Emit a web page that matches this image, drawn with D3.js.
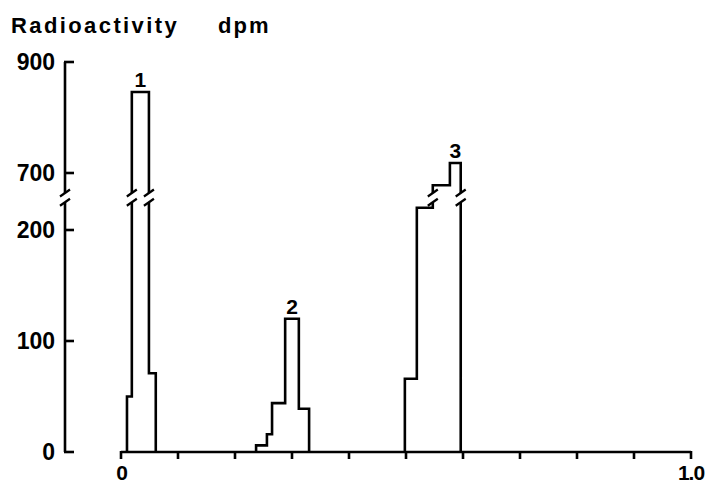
<!DOCTYPE html>
<html>
<head>
<meta charset="utf-8">
<script src="https://cdn.jsdelivr.net/npm/d3@7"></script>
<style>
  html, body { margin: 0; padding: 0; background: #fff; }
  svg { display: block; }
  text { font-family: "Liberation Sans", Arial, sans-serif; font-weight: bold; fill: #000; }
</style>
</head>
<body>
<svg id="chart" width="705" height="486"></svg>
<script>
// ---- data ----
const binStart = [0.0105, 0.019, 0.049, 0.237, 0.256, 0.265, 0.288, 0.312, 0.498, 0.519, 0.547, 0.577];
const binEnd   = [0.019, 0.049, 0.061, 0.256, 0.265, 0.288, 0.312, 0.330, 0.519, 0.547, 0.577, 0.596];
const dpm      = [50, 846, 71, 6, 16, 44, 120, 39, 66, 220, 678, 718];
const peakGroup = [0, 0, 0, 1, 1, 1, 1, 1, 2, 2, 2, 2];
const peakLabels = ["1", "2", "3"];
const peakLabelBin = [1, 6, 11];
const yTicksLow = [0, 100, 200];
const yTicksHigh = [700, 900];
const xTicks = [0, 0.1, 0.2, 0.3, 0.4, 0.5, 0.6, 0.7, 0.8, 0.9, 1.0];
const xTickLabels = {0: "0", 1: "1.0"};
const breakLow = 225, breakHigh = 664;

const svg = d3.select("#chart");

const x = d3.scaleLinear().domain([0, 1]).range([121, 691]);
const yLow = d3.scaleLinear().domain([0, 200]).range([452, 230]);
const yHigh = d3.scaleLinear().domain([700, 900]).range([173, 62]);
const y = v => (v <= breakLow ? yLow(v) : yHigh(v));
const gapTop = yHigh(breakHigh);
const gapBot = yLow(breakLow);

const SW = 2.6;

// clip for broken axis
const defs = svg.append("defs");
const cp = defs.append("clipPath").attr("id", "brk");
cp.append("rect").attr("x", 0).attr("y", 0).attr("width", 705).attr("height", gapTop);
cp.append("rect").attr("x", 0).attr("y", gapBot).attr("width", 705).attr("height", 486 - gapBot);

// title
svg.append("text").attr("x", 11).attr("y", 33).attr("font-size", 22)
  .attr("letter-spacing", "2.4px").text("Radioactivity");
svg.append("text").attr("x", 218).attr("y", 33).attr("font-size", 22)
  .attr("letter-spacing", "2px").text("dpm");

// y axis
const axX = 65;
const yAxisG = svg.append("g");
yAxisG.append("path").attr("clip-path", "url(#brk)")
  .attr("d", `M${axX},${yHigh(900)}V${yLow(0)}`)
  .attr("stroke", "#000").attr("stroke-width", SW).attr("fill", "none");
yTicksLow.forEach(t => {
  yAxisG.append("line").attr("x1", axX - 1).attr("x2", axX + 9).attr("y1", yLow(t)).attr("y2", yLow(t))
    .attr("stroke", "#000").attr("stroke-width", SW);
  yAxisG.append("text").attr("x", 55).attr("y", yLow(t) + 8).attr("font-size", 23)
    .attr("text-anchor", "end").text(t);
});
yTicksHigh.forEach(t => {
  yAxisG.append("line").attr("x1", axX - 1).attr("x2", axX + 9).attr("y1", yHigh(t)).attr("y2", yHigh(t))
    .attr("stroke", "#000").attr("stroke-width", SW);
  yAxisG.append("text").attr("x", 55).attr("y", yHigh(t) + 8).attr("font-size", 23)
    .attr("text-anchor", "end").text(t);
});

// x axis
const axY = yLow(0);
const xAxisG = svg.append("g");
xAxisG.append("line").attr("x1", x(0)).attr("x2", x(1)).attr("y1", axY).attr("y2", axY)
  .attr("stroke", "#000").attr("stroke-width", SW);
xTicks.forEach(t => {
  xAxisG.append("line").attr("x1", x(t)).attr("x2", x(t)).attr("y1", axY - 1).attr("y2", axY + 7)
    .attr("stroke", "#000").attr("stroke-width", SW);
  if (xTickLabels[t] !== undefined) {
    xAxisG.append("text").attr("x", x(t) + (t === 1 ? 0 : 1)).attr("y", 480).attr("font-size", 21)
      .attr("text-anchor", "middle").attr("letter-spacing", t === 1 ? "-1px" : "0px")
      .text(xTickLabels[t]);
  }
});

// histogram outlines (one per peak)
const crossings = [];
peakLabels.forEach((lab, g) => {
  const idx = d3.range(dpm.length).filter(i => peakGroup[i] === g);
  const pts = [[x(binStart[idx[0]]), y(0)]];
  let prev = 0;
  idx.forEach(i => {
    pts.push([x(binStart[i]), y(dpm[i])]);
    pts.push([x(binEnd[i]), y(dpm[i])]);
    if ((prev <= breakLow) !== (dpm[i] <= breakLow)) crossings.push(x(binStart[i]));
    prev = dpm[i];
  });
  pts.push([x(binEnd[idx[idx.length - 1]]), y(0)]);
  if (prev > breakLow) crossings.push(x(binEnd[idx[idx.length - 1]]));
  svg.append("path").attr("clip-path", "url(#brk)")
    .attr("d", d3.line()(pts))
    .attr("fill", "none").attr("stroke", "#000").attr("stroke-width", SW)
    .attr("stroke-linejoin", "miter");
  const bi = peakLabelBin[g];
  svg.append("text")
    .attr("x", (x(binStart[bi]) + x(binEnd[bi])) / 2)
    .attr("y", y(dpm[bi]) - 5).attr("font-size", 21)
    .attr("text-anchor", "middle").text(lab);
});

// break marks
[axX].concat(crossings).forEach(cx => {
  [gapTop, gapBot].forEach(cy => {
    svg.append("line").attr("x1", cx - 5).attr("y1", cy + 3.5).attr("x2", cx + 5).attr("y2", cy - 3.5)
      .attr("stroke", "#000").attr("stroke-width", 2.2);
  });
});
</script>
</body>
</html>
